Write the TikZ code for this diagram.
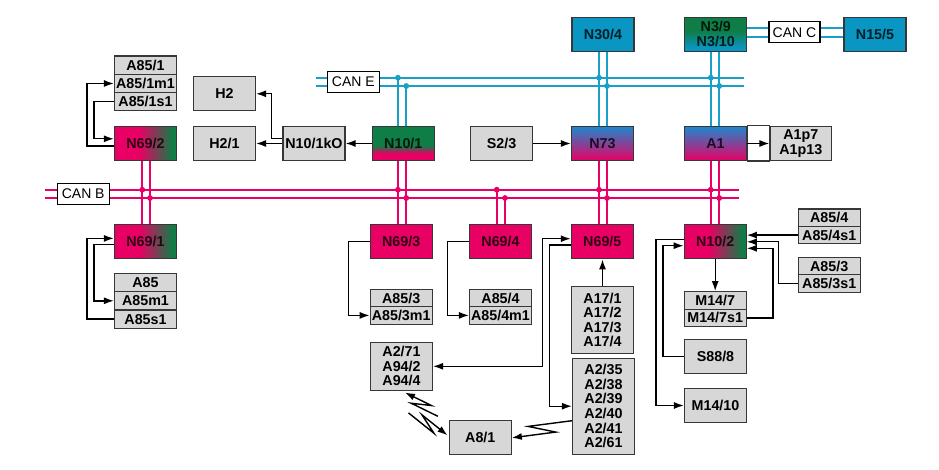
\documentclass[tikz,border=0pt]{standalone}
\usepackage{fontspec}
\setmainfont{Liberation Sans}
\usepackage{tikz}
\usetikzlibrary{arrows.meta}
\usetikzlibrary{calc}

\definecolor{canpink}{RGB}{232,0,100}
\definecolor{cangreen}{RGB}{15,125,70}
\definecolor{canblue}{RGB}{10,150,195}
\definecolor{canline}{RGB}{25,160,200}
\definecolor{shadeblue}{RGB}{30,135,205}
\definecolor{partgrey}{RGB}{215,215,215}
\definecolor{boxline}{RGB}{55,55,55}

\pgfdeclarehorizontalshading{pinkgreen}{100bp}{color(0bp)=(canpink); color(45bp)=(canpink); color(72bp)=(cangreen); color(100bp)=(cangreen)}
\pgfdeclareverticalshading{greenpink}{100bp}{color(0bp)=(canpink); color(35bp)=(canpink); color(47bp)=(cangreen); color(100bp)=(cangreen)}
\pgfdeclareverticalshading{bluepink}{100bp}{color(0bp)=(canpink); color(25bp)=(canpink); color(75bp)=(shadeblue); color(100bp)=(shadeblue)}
\pgfdeclareverticalshading{greenblue}{100bp}{color(0bp)=(canblue); color(30bp)=(canblue); color(55bp)=(cangreen); color(100bp)=(cangreen)}

\begin{document}
\begin{tikzpicture}[x=1pt,y=-1pt,>={Latex[length=10pt,width=7pt]},
  every node/.style={inner sep=0pt,font=\fontsize{14.3}{14.6}\selectfont\bfseries},
  ecu/.style={draw=boxline,line width=1.1pt,minimum width=62pt,minimum height=34pt,text=black,text opacity=0.8},
  part/.style={ecu,fill=partgrey,text opacity=1},
  row/.style={part,minimum height=18.3pt},
  halfrow/.style={part,minimum height=17.4pt},
  busname/.style={draw=black,fill=white,line width=1.1pt,minimum width=52pt,minimum height=20.5pt,font=\fontsize{14}{14.5}\selectfont},
  cyanbus/.style={draw=canline,line width=2.2pt},
  pinkbus/.style={draw=canpink,line width=2.2pt},
  link/.style={draw=black,line width=1.4pt}]
\useasboundingbox (0,0) rectangle (939,470);

% top row
\draw node [ecu,fill=canblue] (N304) at (603,34.2) {N30/4};
\draw node [ecu,shade,shading=greenblue,align=center] (N39) at (715.8,34.2) {N3/9\\N3/10};
\draw node [ecu,fill=canblue] (N155) at (875,34.2) {N15/5};

% left upper group
\draw node [row] (A851) at (145.5,65.2) {A85/1};
\draw node [row] [below of=A851,node distance=18.3pt] (A851m1) {A85/1m1};
\draw node [row] [below of=A851m1,node distance=18.3pt] (A851s1) {A85/1s1};
\draw node [part] (H2) at (224.5,93.8) {H2};

% second row
\draw node [ecu,shade,shading=pinkgreen] (N692) at (145.5,143.5) {N69/2};
\draw node [part] (H21) at (224.5,143.5) {H2/1};
\draw node [part] (N101kO) at (314,143.5) {N10/1kO};
\draw node [ecu,shade,shading=greenpink] (N101) at (403.3,143.5) {N10/1};
\draw node [part] (S23) at (501.5,143.5) {S2/3};
\draw node [ecu,shade,shading=bluepink] (N73) at (602.5,143.5) {N73};
\draw node [ecu,shade,shading=bluepink] (A1) at (715.5,143.5) {A1};
\draw node [part,minimum width=61.7pt,align=center] (A1p7) at (800.8,143.5) {A1p7\\A1p13};
\draw [line width=1.1pt,draw=boxline,fill=white] (A1.north east) rectangle (A1p7.south west);

% third row
\draw node [ecu,shade,shading=pinkgreen] (N691) at (145.5,241.8) {N69/1};
\draw node [ecu,fill=canpink] (N693) at (401.2,241.8) {N69/3};
\draw node [ecu,fill=canpink] (N694) at (500.5,241.8) {N69/4};
\draw node [ecu,fill=canpink] (N695) at (602.3,241.8) {N69/5};
\draw node [ecu,shade,shading=pinkgreen] (N102) at (715.2,241.8) {N10/2};

% parts below
\draw node [row] (A85) at (145.5,282.5) {A85};
\draw node [row] [below of=A85,node distance=18.3pt] (A85m1) {A85m1};
\draw node [row] [below of=A85m1,node distance=18.3pt] (A85s1) {A85s1};
\draw node [halfrow] (A853) at (401.2,298) {A85/3};
\draw node [halfrow] [below of=A853,node distance=17.4pt] (A853m1) {A85/3m1};
\draw node [halfrow] (A854) at (500.5,298) {A85/4};
\draw node [halfrow] [below of=A854,node distance=17.4pt] (A854m1) {A85/4m1};
\draw node [part,minimum height=66.6pt,align=center] (A17) at (602.5,320) {A17/1\\A17/2\\A17/3\\A17/4};
\draw node [part,minimum height=48pt,align=center] (A271) at (401.5,366.3) {A2/71\\A94/2\\A94/4};
\draw node [part,minimum height=95.7pt,align=center] (A235) at (603.5,406.2) {A2/35\\A2/38\\A2/39\\A2/40\\A2/41\\A2/61};
\draw node [part] (A81) at (480.3,437.8) {A8/1};
\draw node [halfrow] (A854r) at (829.2,217.7) {A85/4};
\draw node [halfrow] [below of=A854r,node distance=17.4pt] (A854s1) {A85/4s1};
\draw node [halfrow] (A853r) at (829.2,266) {A85/3};
\draw node [halfrow] [below of=A853r,node distance=17.4pt] (A853s1) {A85/3s1};
\draw node [halfrow] (M147) at (715.2,300.4) {M14/7};
\draw node [halfrow] [below of=M147,node distance=17.4pt] (M147s1) {M14/7s1};
\draw node [part] (S888) at (715.5,356.3) {S88/8};
\draw node [part] (M1410) at (715.5,405.5) {M14/10};

% CAN E
\coordinate (CANEw) at (316,77.7);
\coordinate (CANEe) at (744,77.7);
\coordinate (CANEw2) at (316,86);
\coordinate (CANEe2) at (744,86);
\draw [cyanbus] (CANEw) -- (CANEe) (CANEw2) -- (CANEe2);
\draw [cyanbus] ($(N101.north)+(-5.4,0)$) coordinate (p) -- (p |- CANEw) ($(N101.north)+(3,0)$) coordinate (q) -- (q |- CANEw2);
\fill [canline] (p |- CANEw) circle (2.9) (q |- CANEw2) circle (2.9);
\draw [cyanbus] ($(N304.south)+(-4,0)$) coordinate (p) -- (p |- N73.north) ($(N304.south)+(4,0)$) coordinate (q) -- (q |- N73.north);
\fill [canline] (p |- CANEw) circle (2.9) (q |- CANEw2) circle (2.9);
\draw [cyanbus] ($(N39.south)+(-5,0)$) coordinate (p) -- (p |- A1.north) ($(N39.south)+(3.5,0)$) coordinate (q) -- (q |- A1.north);
\fill [canline] (p |- CANEw) circle (2.9) (q |- CANEw2) circle (2.9);
\draw node [busname] (CANE) at (353.3,81.9) {CAN E};

% CAN C
\coordinate (CANCmid) at (794.5,32.2);
\draw [cyanbus] ($(CANCmid)+(0,-4.5)$) coordinate (p) -- (p -| N39.east) (p) -- (p -| N155.west);
\draw [cyanbus] ($(CANCmid)+(0,4.5)$) coordinate (q) -- (q -| N39.east) (q) -- (q -| N155.west);
\draw node [busname,minimum width=51pt] (CANC) at (CANCmid) {CAN C};

% CAN B
\coordinate (CANBw) at (45,189.7);
\coordinate (CANBe) at (739.3,189.7);
\coordinate (CANBw2) at (45,198);
\coordinate (CANBe2) at (739.3,198);
\draw [pinkbus] (CANBw) -- (CANBe) (CANBw2) -- (CANBe2);
\draw [pinkbus] ($(N692.south)+(-3.2,0)$) coordinate (p) -- (p |- N691.north) ($(N692.south)+(4.5,0)$) coordinate (q) -- (q |- N691.north);
\fill [canpink] (p |- CANBw) circle (2.9) (q |- CANBw2) circle (2.9);
\draw [pinkbus] ($(N101.south)+(-5.4,0)$) coordinate (p) -- (p |- N693.north) ($(N101.south)+(3,0)$) coordinate (q) -- (q |- N693.north);
\fill [canpink] (p |- CANBw) circle (2.9) (q |- CANBw2) circle (2.9);
\draw [pinkbus] ($(N694.north)+(-3.8,0)$) coordinate (p) -- (p |- CANBw) ($(N694.north)+(4.5,0)$) coordinate (q) -- (q |- CANBw2);
\fill [canpink] (p |- CANBw) circle (2.9) (q |- CANBw2) circle (2.9);
\draw [pinkbus] ($(N73.south)+(-3.5,0)$) coordinate (p) -- (p |- N695.north) ($(N73.south)+(4.5,0)$) coordinate (q) -- (q |- N695.north);
\fill [canpink] (p |- CANBw) circle (2.9) (q |- CANBw2) circle (2.9);
\draw [pinkbus] ($(A1.south)+(-4.8,0)$) coordinate (p) -- (p |- N102.north) ($(A1.south)+(3.8,0)$) coordinate (q) -- (q |- N102.north);
\fill [canpink] (p |- CANBw) circle (2.9) (q |- CANBw2) circle (2.9);
\draw node [busname,minimum width=51.7pt,minimum height=20.3pt] (CANB) at (83.2,194) {CAN B};

% links
\draw [link,->] (A851s1.west) -- ++(-20,0) |- ($(N692.west)+(0,-4.7)$);
\draw [link,->] ($(N692.west)+(0,2.7)$) -- ++(-27,0) |- (A851m1.west);
\draw [link,->] ($(N101kO.west)+(0,-5)$) -- ++(-10.7,0) |- (H2.east);
\draw [link,->] (N101kO) -- (H21);
\draw [link,->] (N101) -- (N101kO);
\draw [link,->] (S23) -- (N73);
\draw [link,->] (A1) -- (A1p7);
\draw [link,->] (A85s1.west) -- ++(-27,0) |- ($(N691.west)+(0,-3.4)$);
\draw [link,->] ($(N691.west)+(0,2.6)$) -- ++(-20,0) |- (A85m1.west);
\draw [link,->] (N693.west) -- ++(-21,0) |- (A853m1.west);
\draw [link,->] (N694.west) -- ++(-21.4,0) |- (A854m1.west);
\draw [link,->] (A17) -- (A17 |- N695.south);
\draw [link,<->] ($(N695.west)+(0,-3.1)$) -- ++(-28,0) |- (A271.east);
\draw [link,->] ($(N695.west)+(0,3.2)$) -- ++(-21,0) |- (A235.west);
\draw [link,->] (A854s1.west) -- (A854s1.west -| N102.east);
\draw [link,->] (A853s1.west) -- ++(-19.3,0) |- (N102.east);
\draw [link,->] (M147s1.east) -- ++(26.3,0) |- ($(N102.east)+(0,6.5)$);
\draw [link,->] (N102) -- (M147);
\draw [link,->] (S888.west) -- ++(-21,0) |- ($(N102.west)+(0,3.9)$);
\draw [link,->] ($(N102.west)+(0,-2.5)$) -- ++(-27.6,0) |- (M1410.west);

% radio links
\coordinate (z1a) at ($(A81.north west)+(-11,-4)$);
\coordinate (z1b) at ($(A271.south)+(3.5,1.7)$);
\draw [link,->] (z1a) -- ($(z1a)!0.72!(z1b)!5pt!90:(z1b)$) -- ($(z1a)!0.28!(z1b)!5pt!-90:(z1b)$) -- (z1b);
\coordinate (z2a) at ($(A271.south)+(7,22)$);
\coordinate (z2b) at ($(A81.west)+(-1.3,-2.5)$);
\draw [link,->] (z2a) -- ($(z2a)!0.72!(z2b)!5pt!-90:(z2b)$) -- ($(z2a)!0.28!(z2b)!5pt!90:(z2b)$) -- (z2b);
\coordinate (z3a) at ($(A235.west)+(0,14.5)$);
\draw [link,->] (z3a) -- ($(z3a)!0.7!(A81.east)!6.5pt!-90:(A81.east)$) -- ($(z3a)!0.3!(A81.east)!6.5pt!90:(A81.east)$) -- (A81.east);
\end{tikzpicture}
\end{document}
